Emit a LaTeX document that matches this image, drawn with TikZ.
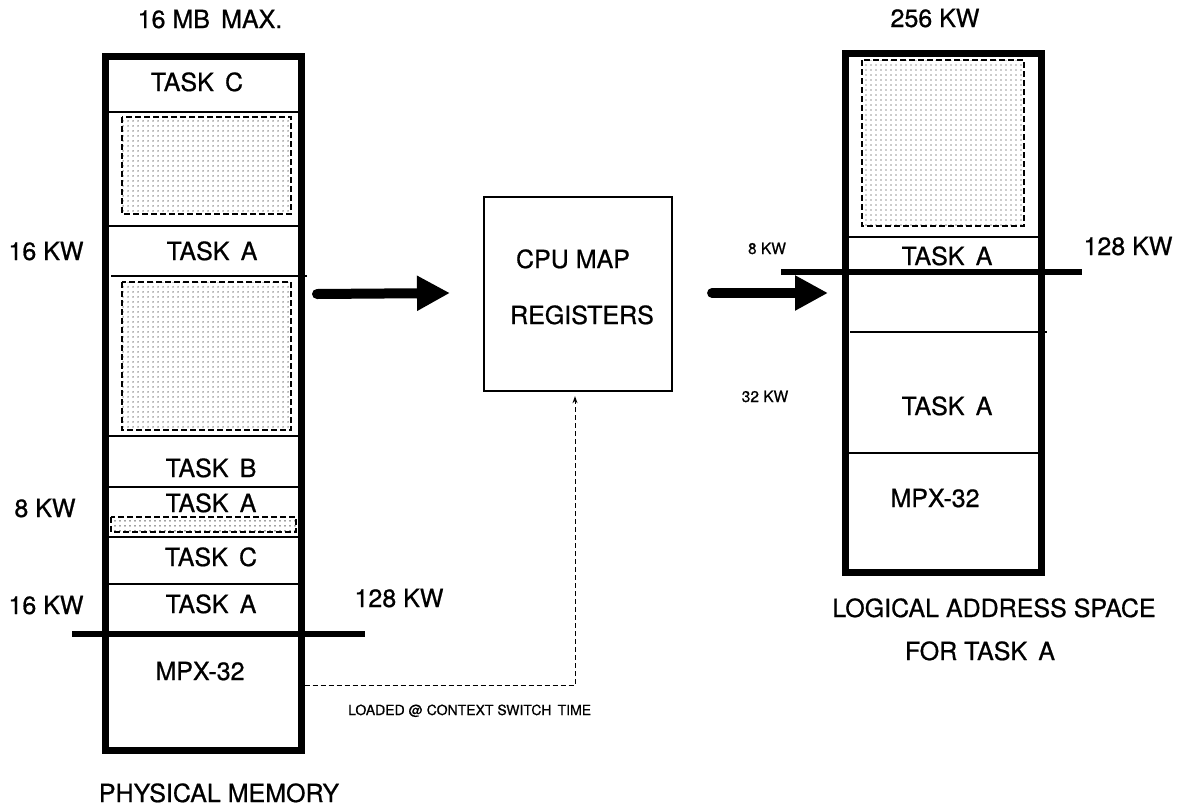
\documentclass[tikz,border=0pt]{standalone}
\usepackage{fontspec}
\setmainfont{TeX Gyre Heros}
\newfontfamily\labelfont{TeX Gyre Heros}[FakeBold=0.7]
\usetikzlibrary{arrows.meta,calc,patterns.meta}

% fine dot screen used for the unassigned (free) memory areas
\tikzdeclarepattern{
  name=finedots,
  type=uncolored,
  bounding box={(0pt,0pt) and (4.5pt,4.5pt)},
  tile size={(4.5pt,4.5pt)},
  code={\pgfpathcircle{\pgfpoint{2.25pt}{2.25pt}}{0.75pt}\pgfusepath{fill}}
}

\newcommand{\wsp}{\hspace{0.45em}}

\tikzset{
  membox/.style={draw, line width=7pt, inner sep=0pt},
  mapbox/.style={draw, line width=1.3pt, inner sep=0pt},
  sep/.style={line width=1.1pt},
  freearea/.style={draw, line width=1.1pt, dash pattern=on 6pt off 3pt,
                   pattern=finedots, pattern color=black!85},
  bar/.style={line width=6.5pt},
  bigarrow/.style={line width=10pt, line cap=round,
                   -{Triangle[length=33pt,width=33pt]}},
  loadline/.style={line width=1pt, dash pattern=on 5pt off 3pt,
                   -{Stealth[length=7pt,width=5pt]}},
  lbl/.style={font=\labelfont\fontsize{25}{30}\selectfont, inner sep=0pt, anchor=base},
  smalllbl/.style={font=\labelfont\fontsize{15.5}{18}\selectfont, inner sep=0pt, anchor=base},
  notelbl/.style={font=\labelfont\fontsize{14}{17}\selectfont, inner sep=0pt, anchor=base west},
}

\begin{document}
\begin{tikzpicture}[x=1pt, y=-1pt]
\useasboundingbox (0,0) rectangle (1179,807);

% ---------- physical memory ----------
\node[membox, minimum width=195.5pt, minimum height=694pt] (phys) at (203.25,403) {};

\draw[freearea] (122,117) rectangle (291,214);
\draw[freearea] (122,282) rectangle (291,430);
\draw[freearea] (111,517) rectangle (296,532);

\draw[sep] (108,112) -- (298,112);
\draw[sep] (108,226) -- (298,226);
\draw[sep] (111,276) -- (307,276);
\draw[sep] (108,436) -- (298,436);
\draw[sep] (108,487) -- (298,487);
\draw[sep] (108,537) -- (298,537);
\draw[sep] (108,584) -- (298,584);
\draw[bar] (72,634) -- (365,634);

\node[lbl] (pmax) at (210,28) {16 MB\wsp MAX.};
\node[lbl] (pc1) at (197,91) {TASK\wsp C};
\node[lbl] (pa1) at (212,260) {TASK\wsp A};
\node[lbl] (pb)  at (211,477) {TASK\wsp B};
\node[lbl] (pa2) at (211,512) {TASK\wsp A};
\node[lbl] (pc2) at (211,566) {TASK\wsp C};
\node[lbl] (pa3) at (211,613) {TASK\wsp A};
\node[lbl] (pos) at (200,680) {MPX-32};
\node[lbl] (ptitle) at (219,802) {PHYSICAL MEMORY};

\node[lbl] (k16a) at (46,260) {16 KW};
\node[lbl] (k8)   at (45,517) {8 KW};
\node[lbl] (k16b) at (46,614) {16 KW};
\node[lbl] (k128a) at (399,607) {128 KW};

% ---------- map registers ----------
\node[mapbox, minimum width=188pt, minimum height=194pt] (cpu) at (578,294) {};
\node[lbl] (cpu1) at (573,268) {CPU MAP};
\node[lbl] (cpu2) at (582,324) {REGISTERS};

% ---------- logical address space ----------
\node[membox, minimum width=196pt, minimum height=519pt] (logi) at (943,312.5) {};

\draw[freearea] (862,60) rectangle (1024,226);
\draw[sep] (848,237) -- (1038,237);
\draw[sep] (850,332) -- (1047,332);
\draw[sep] (848,453) -- (1038,453);
\draw[bar] (781,272) -- (1082,272);

\node[lbl] (lmax) at (935,27) {256 KW};
\node[lbl] (la1) at (947,265) {TASK\wsp A};
\node[lbl] (la2) at (947,415) {TASK\wsp A};
\node[lbl] (los) at (935,507) {MPX-32};
\node[lbl] (lt1) at (994,617) {LOGICAL ADDRESS SPACE};
\node[lbl] (lt2) at (980,660) {FOR TASK\wsp A};

\node[smalllbl] (s8)  at (767,254) {8 KW};
\node[smalllbl] (s32) at (765,402) {32 KW};
\node[lbl] (k128b) at (1128,255) {128 KW};

% ---------- connectors ----------
\coordinate (a1) at (phys.east |- cpu.west);
\draw[bigarrow] ($(a1)+(12.5,0)$) -- ($(cpu.west)+(-33.4,-1)$);
\draw[bigarrow] ($(cpu.east)+(39.4,-1)$) -- ($(logi.west |- cpu.east)+(-13.5,-1)$);

\coordinate (ldy) at (0,685);
\draw[loadline] (phys.east |- ldy) -| ($(cpu.south)+(-3,4.5)$);
\node[notelbl] (ld) at (348,715) {LOADED @ CONTEXT SWITCH\wsp TIME};
\end{tikzpicture}
\end{document}
